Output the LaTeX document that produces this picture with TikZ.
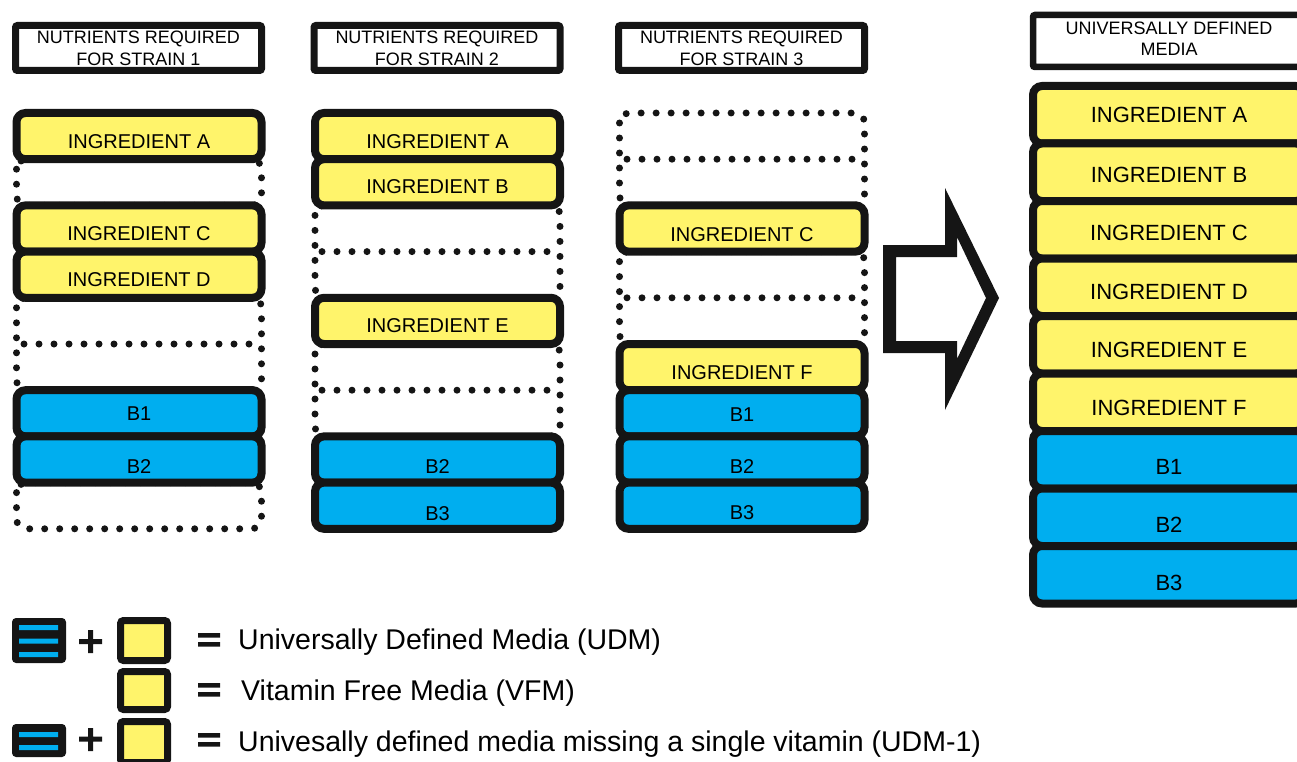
\documentclass[tikz,border=0pt]{standalone}
\usepackage{fontspec}
\setmainfont{Liberation Sans}
\definecolor{ink}{HTML}{151515}
\definecolor{vblue}{HTML}{00AEEF}
\definecolor{iyellow}{HTML}{FFF46B}

\tikzset{
  slot/.style={draw=ink, line width=8pt, rounded corners=9pt, inner sep=0pt, outer sep=0pt},
  ing/.style={slot, fill=iyellow, minimum width=245pt, minimum height=46.2pt},
  vit/.style={slot, fill=vblue, minimum width=245pt, minimum height=46.2pt},
  bigitem/.style={slot, minimum width=272pt, minimum height=57.5pt},
  hdr/.style={draw=ink, line width=7pt, rounded corners=2pt, fill=white, inner sep=0pt,
              minimum width=246pt, minimum height=45pt},
  gap/.style={draw=ink, line width=7pt, line cap=round, dash pattern=on 0pt off 15pt, rounded corners=10pt},
  txt/.style={anchor=base, inner sep=0pt, text=black},
  lab/.style={txt, font=\fontsize{20}{24}\selectfont},
  biglab/.style={txt, font=\fontsize{22}{26}\selectfont},
  hdrtxt/.style={txt, font=\fontsize{18}{21}\selectfont},
  legtxt/.style={anchor=base west, inner sep=0pt, font=\fontsize{28.5}{32}\selectfont},
  icon/.style={fill=ink, rounded corners=4pt, inner sep=0pt, minimum width=54pt},
  ysq/.style={draw=ink, fill=iyellow, line width=7pt, rounded corners=3pt, inner sep=0pt, minimum width=47pt},
}

\begin{document}
\begin{tikzpicture}[x=1pt, y=-1pt]
\useasboundingbox (0,0) rectangle (1297,762);

% ---------- column headers ----------
\node[hdr] (h1) at (138.5,48) {};
\node[hdrtxt] (h1a) at (138.5,44) {NUTRIENTS REQUIRED};
\node[hdrtxt] (h1b) at (138.5,66) {FOR STRAIN 1};
\node[hdr] (h2) at (437,48) {};
\node[hdrtxt] (h2a) at (437,44) {NUTRIENTS REQUIRED};
\node[hdrtxt] (h2b) at (437,66) {FOR STRAIN 2};
\node[hdr] (h3) at (741.5,48) {};
\node[hdrtxt] (h3a) at (741.5,44) {NUTRIENTS REQUIRED};
\node[hdrtxt] (h3b) at (741.5,66) {FOR STRAIN 3};
\node[hdr, line width=6.5pt, minimum width=272pt, minimum height=52pt] (h4) at (1169,41) {};
\node[hdrtxt] (h4a) at (1169,35) {UNIVERSALLY DEFINED};
\node[hdrtxt] (h4b) at (1169,56) {MEDIA};

% ---------- empty (missing) slots ----------
% strain 1
\draw[gap] (16.5,159.2) rectangle (261.5,205.4);
\draw[gap] (16.5,297.8) rectangle (261.5,390.2);
\draw[gap] (24,344) -- (254,344);
\draw[gap] (16.5,482.6) rectangle (261.5,528.8);
% strain 2
\draw[gap] (315,205.4) rectangle (560,297.8);
\draw[gap] (322,251.6) -- (553,251.6);
\draw[gap] (315,344) rectangle (560,436.4);
\draw[gap] (322,390.2) -- (553,390.2);
% strain 3
\draw[gap] (619.5,113) rectangle (864.5,205.4);
\draw[gap] (627,159.2) -- (857,159.2);
\draw[gap] (619.5,251.6) rectangle (864.5,344);
\draw[gap] (627,297.8) -- (857,297.8);

% ---------- strain 1 ----------
\node[ing] (s1a) at (139,136.1) {};
\node[lab] (s1at) at (139,148.7) {INGREDIENT A};
\node[ing] (s1c) at (139,228.5) {};
\node[lab] (s1ct) at (139,240.2) {INGREDIENT C};
\node[ing] (s1d) at (139,274.7) {};
\node[lab] (s1dt) at (139,286.2) {INGREDIENT D};
\node[vit] (s1b1) at (139,413.3) {};
\node[lab] (s1b1t) at (139,420.5) {B1};
\node[vit] (s1b2) at (139,459.5) {};
\node[lab] (s1b2t) at (139,473.7) {B2};

% ---------- strain 2 ----------
\node[ing] (s2a) at (437.5,136.1) {};
\node[lab] (s2at) at (437.5,148.7) {INGREDIENT A};
\node[ing] (s2b) at (437.5,182.3) {};
\node[lab] (s2bt) at (437.5,193.7) {INGREDIENT B};
\node[ing] (s2e) at (437.5,320.9) {};
\node[lab] (s2et) at (437.5,332.7) {INGREDIENT E};
\node[vit] (s2b2) at (437.5,459.5) {};
\node[lab] (s2b2t) at (437.5,473.7) {B2};
\node[vit] (s2b3) at (437.5,505.7) {};
\node[lab] (s2b3t) at (437.5,520.2) {B3};

% ---------- strain 3 ----------
\node[ing] (s3c) at (742,228.5) {};
\node[lab] (s3ct) at (742,241.2) {INGREDIENT C};
\node[ing] (s3f) at (742,367.1) {};
\node[lab] (s3ft) at (742,379.7) {INGREDIENT F};
\node[vit] (s3b1) at (742,413.3) {};
\node[lab] (s3b1t) at (742,421.5) {B1};
\node[vit] (s3b2) at (742,459.5) {};
\node[lab] (s3b2t) at (742,473.7) {B2};
\node[vit] (s3b3) at (742,505.7) {};
\node[lab] (s3b3t) at (742,519.7) {B3};

% ---------- big arrow ----------
\fill[ink, even odd rule]
  (883,245) -- (945,245) -- (945,188) -- (999,298) -- (945,410) -- (945,353) -- (883,353) -- cycle
  (896,257) -- (957,257) -- (957,237) -- (986,298) -- (957,359) -- (957,341) -- (896,341) -- cycle;

% ---------- universally defined media ----------
\node[bigitem, fill=iyellow] (ua) at (1169,114.75) {};
\node[biglab] (uat) at (1169,122.9) {INGREDIENT A};
\node[bigitem, fill=iyellow] (ub) at (1169,172.25) {};
\node[biglab] (ubt) at (1169,182.9) {INGREDIENT B};
\node[bigitem, fill=iyellow] (uc) at (1169,229.75) {};
\node[biglab] (uct) at (1169,240.9) {INGREDIENT C};
\node[bigitem, fill=iyellow] (ud) at (1169,287.25) {};
\node[biglab] (udt) at (1169,299.9) {INGREDIENT D};
\node[bigitem, fill=iyellow] (ue) at (1169,344.75) {};
\node[biglab] (uet) at (1169,357.9) {INGREDIENT E};
\node[bigitem, fill=iyellow] (uf) at (1169,402.25) {};
\node[biglab] (uft) at (1169,415.9) {INGREDIENT F};
\node[bigitem, fill=vblue] (ub1) at (1169,459.75) {};
\node[biglab] (ub1t) at (1169,474.9) {B1};
\node[bigitem, fill=vblue] (ub2) at (1169,517.25) {};
\node[biglab] (ub2t) at (1169,532.4) {B2};
\node[bigitem, fill=vblue] (ub3) at (1169,574.75) {};
\node[biglab] (ub3t) at (1169,590.9) {B3};

% ---------- legend ----------
% row 1: vitamins + base = UDM
\node[icon, minimum height=45pt] (k1v) at (39,640.5) {};
\fill[vblue] (19,625) rectangle (58,630) (19,638.5) rectangle (58,643.5) (19,652) rectangle (58,657);
\fill[ink] (79,639) rectangle (102,644) (88,630) rectangle (93,653);
\node[ysq, minimum height=40pt] (k1y) at (144,640.5) {};
\fill[ink] (198,633) rectangle (220,637.5) (198,642) rectangle (220,646.5);
\node[legtxt] (k1t) at (238,649) {Universally Defined Media (UDM)};
% row 2: base only = VFM
\node[ysq, minimum height=38pt] (k2y) at (144,690.5) {};
\fill[ink] (198,683) rectangle (220,687.5) (198,692) rectangle (220,696.5);
\node[legtxt] (k2t) at (241,700) {Vitamin Free Media (VFM)};
% row 3: vitamins minus one + base = UDM-1
\node[icon, minimum height=33pt] (k3v) at (39,740.5) {};
\fill[vblue] (19,732) rectangle (58,737) (19,745) rectangle (58,750);
\fill[ink] (79,736.5) rectangle (102,741.5) (88,728) rectangle (93,751);
\node[ysq, minimum height=41pt] (k3y) at (144,742) {};
\fill[ink] (198,733) rectangle (220,737.5) (198,742) rectangle (220,746.5);
\node[legtxt] (k3t) at (238,751) {Univesally defined media missing a single vitamin (UDM-1)};
\end{tikzpicture}
\end{document}
